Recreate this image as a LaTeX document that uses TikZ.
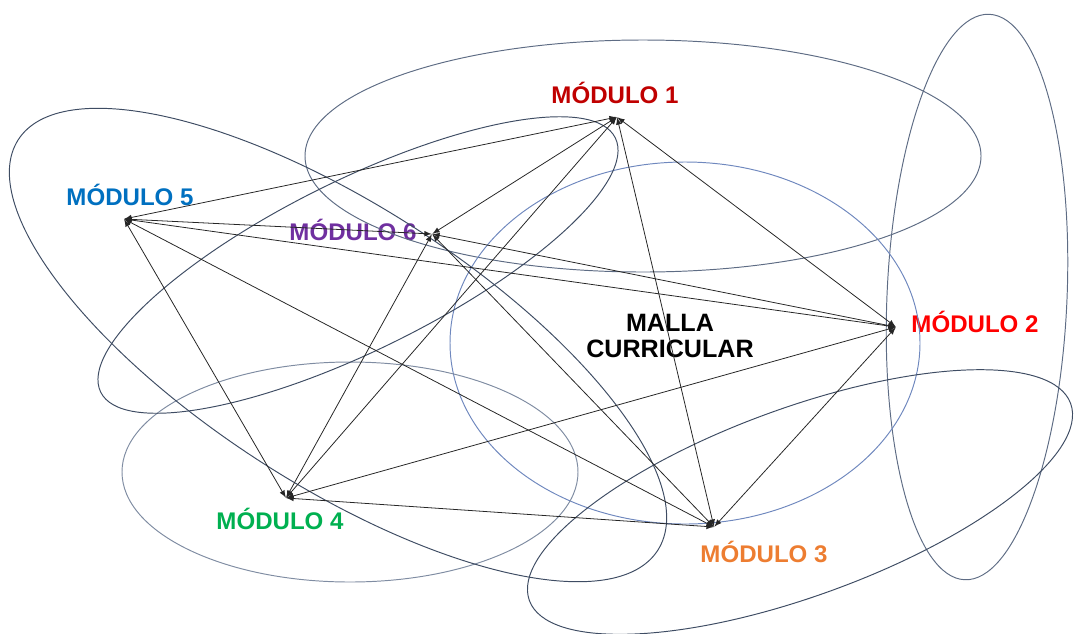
\documentclass[tikz,border=0pt]{standalone}
\usepackage{fontspec}
\setsansfont{Liberation Sans}
\usetikzlibrary{arrows,positioning}

\definecolor{mod1}{HTML}{C00000}
\definecolor{mod2}{HTML}{FF0000}
\definecolor{mod3}{HTML}{ED7D31}
\definecolor{mod4}{HTML}{00B050}
\definecolor{mod5}{HTML}{0070C0}
\definecolor{mod6}{HTML}{7030A0}
\definecolor{ringdark}{HTML}{3E4C63}
\definecolor{ringmid}{HTML}{5E6C84}
\definecolor{ringlight}{HTML}{7F8CA2}
\definecolor{ringblue}{HTML}{6F88BE}

\begin{document}
\begin{tikzpicture}[x=0.02cm,y=-0.02cm]
	\tikzset{
	  basic/.style  = {inner sep=0pt, font=\sffamily\bfseries},
	  modulo/.style = {basic, anchor=base, font=\sffamily\bfseries\fontsize{13.7}{15}\selectfont},
	  centro/.style = {basic, align=center, font=\sffamily\bfseries\fontsize{14.3}{15.3}\selectfont},
	  punto/.style  = {inner sep=0pt, minimum size=0pt},
	  ring/.style   = {draw=ringmid, line width=0.55pt},
	  link/.style   = {<->, >=latex, line width=0.45pt, black!85}
	}

	\useasboundingbox (0,0) rectangle (1074,633);

	% labels
	\node[modulo, text=mod1] (m1) at (615,103) {MÓDULO 1};
	\node[modulo, text=mod2] (m2) at (975,332) {MÓDULO 2};
	\node[modulo, text=mod3] (m3) at (764,562) {MÓDULO 3};
	\node[modulo, text=mod4] (m4) at (280,529) {MÓDULO 4};
	\node[modulo, text=mod5] (m5) at (130,205) {MÓDULO 5};
	\node[modulo, text=mod6] (m6) at (353,240) {MÓDULO 6};
	\node[centro] (malla) at (670,336) {MALLA\\CURRICULAR};

	% the rings
	\draw[ring] (643,156) ellipse (338 and 116);
	\draw[ring, rotate around={-2.5:(977,297)}] (977,297) ellipse (90 and 283);
	\draw[ring, draw=ringblue] (685,343) ellipse (235 and 181);
	\draw[ring, draw=ringdark, rotate around={20:(800,502)}] (800,502) ellipse (288 and 94);
	\draw[ring, draw=ringlight] (350,472) ellipse (228 and 110);
	\draw[ring, draw=ringdark, rotate around={-32.7:(338,345)}] (338,345) ellipse (380 and 140);
	\draw[ring, draw=ringdark, rotate around={26.3:(358,265)}] (358,265) ellipse (287 and 85);

	% the points of each module
	\node[punto] (p1) at (617,117) {};
	\node[punto] (p2) at (896,327) {};
	\node[punto] (p3) at (714,527) {};
	\node[punto] (p4) at (286,498) {};
	\node[punto] (p5) at (124,219) {};
	\node[punto] (p6) at (432,234) {};

	\draw[link] (p1) -- (p2);
	\draw[link] (p1) -- (p3);
	\draw[link] (p1) -- (p4);
	\draw[link] (p1) -- (p5);
	\draw[link] (p1) -- (p6);
	\draw[link] (p2) -- (p3);
	\draw[link] (p2) -- (p4);
	\draw[link] (p2) -- (p5);
	\draw[link] (p2) -- (p6);
	\draw[link] (p3) -- (p4);
	\draw[link] (p3) -- (p5);
	\draw[link] (p3) -- (p6);
	\draw[link] (p4) -- (p5);
	\draw[link] (p4) -- (p6);
	\draw[link] (p5) -- (p6);
\end{tikzpicture}
\end{document}
